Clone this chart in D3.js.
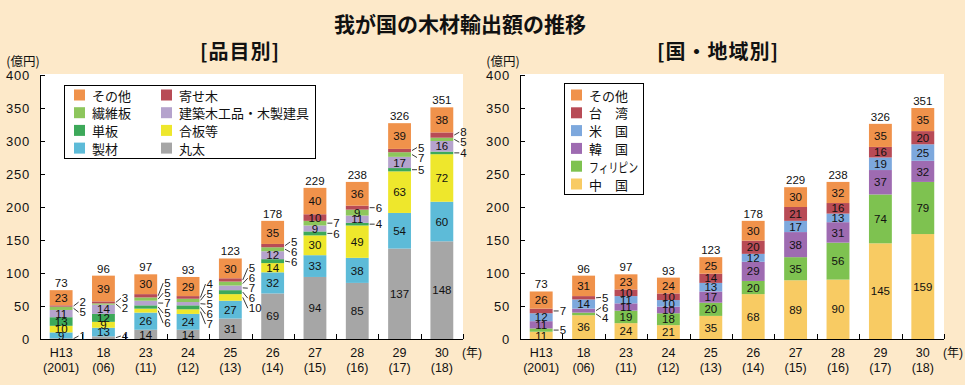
<!DOCTYPE html>
<html><head><meta charset="utf-8">
<script src="https://cdn.jsdelivr.net/npm/d3@7/dist/d3.min.js"></script>
<style>
body{margin:0;background:#FDE9C9;}
svg{display:block;}
text{font-family:"Liberation Sans","Noto Sans CJK JP",sans-serif;fill:#111;}
.jp{font-family:"Noto Sans CJK JP",sans-serif;}
</style></head><body>
<svg id="c" width="965" height="385"></svg>
<script>
// ---------- data ----------
const years = ["H13","18","23","24","25","26","27","28","29","30"];
const yearsWestern = ["(2001)","(06)","(11)","(12)","(13)","(14)","(15)","(16)","(17)","(18)"];
const totals = [73,96,97,93,123,178,229,238,326,351];
const yTicks = [0,50,100,150,200,250,300,350,400];

// 品目別 (bottom to top)
const itemKeys = ["丸太","製材","合板等","単板","建築木工品・木製建具","繊維板","寄せ木","その他"];
const maruta   = [1,4,14,14,31,69,94,85,137,148];
const seizai   = [9,13,26,24,27,32,33,38,54,60];
const gouhan   = [10,9,6,7,10,14,30,49,63,72];
const tanpan   = [13,12,5,6,6,6,6,4,5,4];
const kenchiku = [11,14,7,5,7,12,9,11,17,16];
const senihan  = [5,2,5,5,6,6,7,9,7,5];
const yosegi   = [2,3,5,4,5,5,10,6,5,8];
const itemOther= [23,39,30,29,30,35,40,36,39,38];
const itemValues = [maruta,seizai,gouhan,tanpan,kenchiku,senihan,yosegi,itemOther];
const itemColors = ["#A6A6A6","#5DBBD8","#EEE72C","#3DA95A","#B5A3CD","#8DC65C","#B84B56","#F0924B"];
const itemLegendOrder = ["その他","繊維板","単板","製材","寄せ木","建築木工品・木製建具","合板等","丸太"];

// 国・地域別 (bottom to top)
const countryKeys = ["中　国","フィリピン","韓　国","米　国","台　湾","その他"];
const china       = [11,36,24,21,35,68,89,90,145,159];
const philippines = [5,4,19,18,20,20,35,56,74,79];
const korea       = [11,6,11,10,17,29,38,31,37,32];
const usa         = [12,14,11,10,13,12,17,13,19,25];
const taiwan      = [7,5,10,10,14,20,21,16,16,20];
const countryOther= [26,31,23,24,25,30,30,32,35,35];
const countryValues = [china,philippines,korea,usa,taiwan,countryOther];
const countryColors = ["#F8CB63","#7EC250","#9E6BB1","#7DA8DD","#B84B56","#F0924B"];
const countryLegendOrder = ["その他","台　湾","米　国","韓　国","フィリピン","中　国"];

// labels moved outside the bar although not tiny
const forceOutside = [["25","合板等"]];

// ---------- drawing ----------
const svg = d3.select("#c");
svg.append("rect").attr("width",965).attr("height",385).attr("fill","#FDE9C9");

svg.append("text").attr("class","jp").attr("x",460).attr("y",23)
  .attr("text-anchor","middle").attr("dominant-baseline","central")
  .attr("font-size",21).attr("font-weight",700).text("我が国の木材輸出額の推移");

function spread(items, gap, maxY){
  items.sort((a,b)=>a.y-b.y);
  let clusters = items.map(d=>({members:[d], mean:d.y}));
  const pos = c => { const n=c.members.length; let top=c.mean-(n-1)/2*gap; if(top+(n-1)*gap>maxY) top=maxY-(n-1)*gap; return top; };
  let changed=true;
  while(changed){
    changed=false;
    for(let i=0;i<clusters.length-1;i++){
      const a=clusters[i], b=clusters[i+1];
      const aBottom = pos(a)+(a.members.length-1)*gap;
      if(pos(b)-aBottom < gap){
        const m=a.members.concat(b.members);
        clusters.splice(i,2,{members:m, mean:d3.mean(m,d=>d.y)});
        changed=true; break;
      }
    }
  }
  clusters.forEach(c=>{ const t=pos(c); c.members.forEach((d,k)=>d.ly=t+k*gap); });
  return items;
}

function drawChart(o){
  const g = svg.append("g");
  const yBase = 339, yTop = 74;
  const y = d3.scaleLinear().domain([0,400]).range([yBase, 75]);
  const x = d3.scaleBand().domain(years).range([o.x0, o.x1]).paddingInner(0.46).paddingOuter(0.23);
  const xb = d3.scaleBand().domain(years).range([o.x0, o.x1]);

  g.append("rect").attr("x",o.x0).attr("y",yTop).attr("width",o.x1-o.x0).attr("height",yBase-yTop).attr("fill","#fff");

  // subtitle
  g.append("text").attr("class","jp").attr("x",o.subX).attr("y",50).attr("text-anchor","middle")
    .attr("dominant-baseline","central").attr("font-size",20).attr("font-weight",700)
    .attr("letter-spacing","1px").text(o.subtitle);
  g.append("text").attr("class","jp").attr("x",o.x0-17).attr("y",60).attr("text-anchor","middle")
    .attr("dominant-baseline","central").attr("font-size",12.5).text("(億円)");

  // stack
  const rows = years.map((yr,i)=>{ const r={year:yr}; o.keys.forEach((k,j)=>r[k]=o.values[j][i]); return r; });
  const series = d3.stack().keys(o.keys)(rows);

  series.forEach((s,j)=>{
    g.append("g").selectAll("rect").data(s).join("rect")
      .attr("x",d=>x(d.data.year)).attr("width",x.bandwidth())
      .attr("y",d=>y(d[1])).attr("height",d=>y(d[0])-y(d[1]))
      .attr("fill",o.colors[j]);
  });

  // axes
  const ya = d3.axisLeft(y).tickValues(yTicks).tickSize(-5).tickSizeOuter(0).tickPadding(10);
  const yg = g.append("g").attr("transform",`translate(${o.x0},0)`).call(ya);
  yg.select(".domain").attr("stroke","#000");
  yg.selectAll(".tick line").attr("stroke","#000");
  yg.selectAll(".tick text").attr("font-size",13).attr("letter-spacing","0.8px")
    .attr("font-family",'"Liberation Sans",sans-serif').attr("fill","#111");

  g.append("line").attr("x1",o.x0).attr("x2",o.x1).attr("y1",yBase+0.5).attr("y2",yBase+0.5).attr("stroke","#000");
  g.selectAll(".xt").data(years).join("line").attr("class","xt")
    .attr("x1",d=>Math.round(xb(d)+xb.bandwidth())+0.5).attr("x2",d=>Math.round(xb(d)+xb.bandwidth())+0.5)
    .attr("y1",yBase).attr("y2",yBase-5).attr("stroke","#000");
  g.selectAll(".xl1").data(years).join("text").attr("class","xl1")
    .attr("x",d=>x(d)+x.bandwidth()/2).attr("y",357).attr("text-anchor","middle").attr("font-size",12.5).text(d=>d);
  g.selectAll(".xl2").data(yearsWestern).join("text").attr("class","xl2")
    .attr("x",(d,i)=>x(years[i])+x.bandwidth()/2).attr("y",372).attr("text-anchor","middle").attr("font-size",12.5).text(d=>d);
  g.append("text").attr("x",o.x1-1).attr("y",357).attr("font-size",12).text("(年)");

  // totals
  g.selectAll(".tot").data(years).join("text").attr("class","tot")
    .attr("x",d=>x(d)+x.bandwidth()/2)
    .attr("y",(d,i)=>y(d3.sum(o.values,v=>v[i]))-3)
    .attr("text-anchor","middle").attr("font-size",11.5).text((d,i)=>totals[i]);

  // segment labels
  years.forEach((yr,i)=>{
    const outs=[];
    series.forEach((s,j)=>{
      const d=s[i], v=o.values[j][i];
      const forced = forceOutside.some(f=>f[0]===yr && f[1]===o.keys[j]);
      const cy=(y(d[0])+y(d[1]))/2;
      if(v<9 || forced){ outs.push({v, y:cy}); }
      else{
        g.append("text").attr("x",x(yr)+x.bandwidth()/2).attr("y",cy).attr("dy","0.36em")
          .attr("text-anchor","middle").attr("font-size",11.5).text(v);
      }
    });
    spread(outs, 10, 336);
    const bx = x(yr)+x.bandwidth();
    outs.forEach(d=>{
      g.append("line").attr("x1",bx+1).attr("y1",d.y).attr("x2",bx+6).attr("y2",d.ly)
        .attr("stroke","#222").attr("stroke-width",0.9);
      g.append("text").attr("x",bx+7).attr("y",d.ly).attr("dy","0.36em").attr("font-size",11.5).text(d.v);
    });
  });

  // legend
  const L=o.legend;
  g.append("rect").attr("x",L.x+0.5).attr("y",L.y+0.5).attr("width",L.w).attr("height",L.h)
    .attr("fill","#fff").attr("stroke","#000");
  o.legendOrder.forEach((k,idx)=>{
    const col=Math.floor(idx/L.rows), row=idx%L.rows;
    const j=o.keys.indexOf(k);
    const sx=L.x+L.colX[col], cy=L.y+L.first+row*L.rowH;
    g.append("rect").attr("x",sx).attr("y",cy-5.5).attr("width",11).attr("height",11).attr("fill",o.colors[j]);
    const t = g.append("text").attr("class","jp").attr("x",sx+18).attr("y",cy).attr("dominant-baseline","central")
      .attr("font-size",13).text(k);
    const maxW = L.x + L.w - (sx+18) - 5;
    if(t.node().getComputedTextLength() > maxW){
      t.attr("textLength",maxW).attr("lengthAdjust","spacingAndGlyphs");
    }
  });
}

drawChart({x0:40, x1:463, subX:240, subtitle:"[品目別]", keys:itemKeys, values:itemValues, colors:itemColors,
  legendOrder:itemLegendOrder,
  legend:{x:64,y:85,w:251,h:73,rows:4,colX:[10,97],first:10,rowH:17.7}});
drawChart({x0:520, x1:944, subX:718, subtitle:"[国・地域別]", keys:countryKeys, values:countryValues, colors:countryColors,
  legendOrder:countryLegendOrder,
  legend:{x:564,y:83,w:79,h:111,rows:6,colX:[7],first:12,rowH:17.8}});
</script></body></html>
